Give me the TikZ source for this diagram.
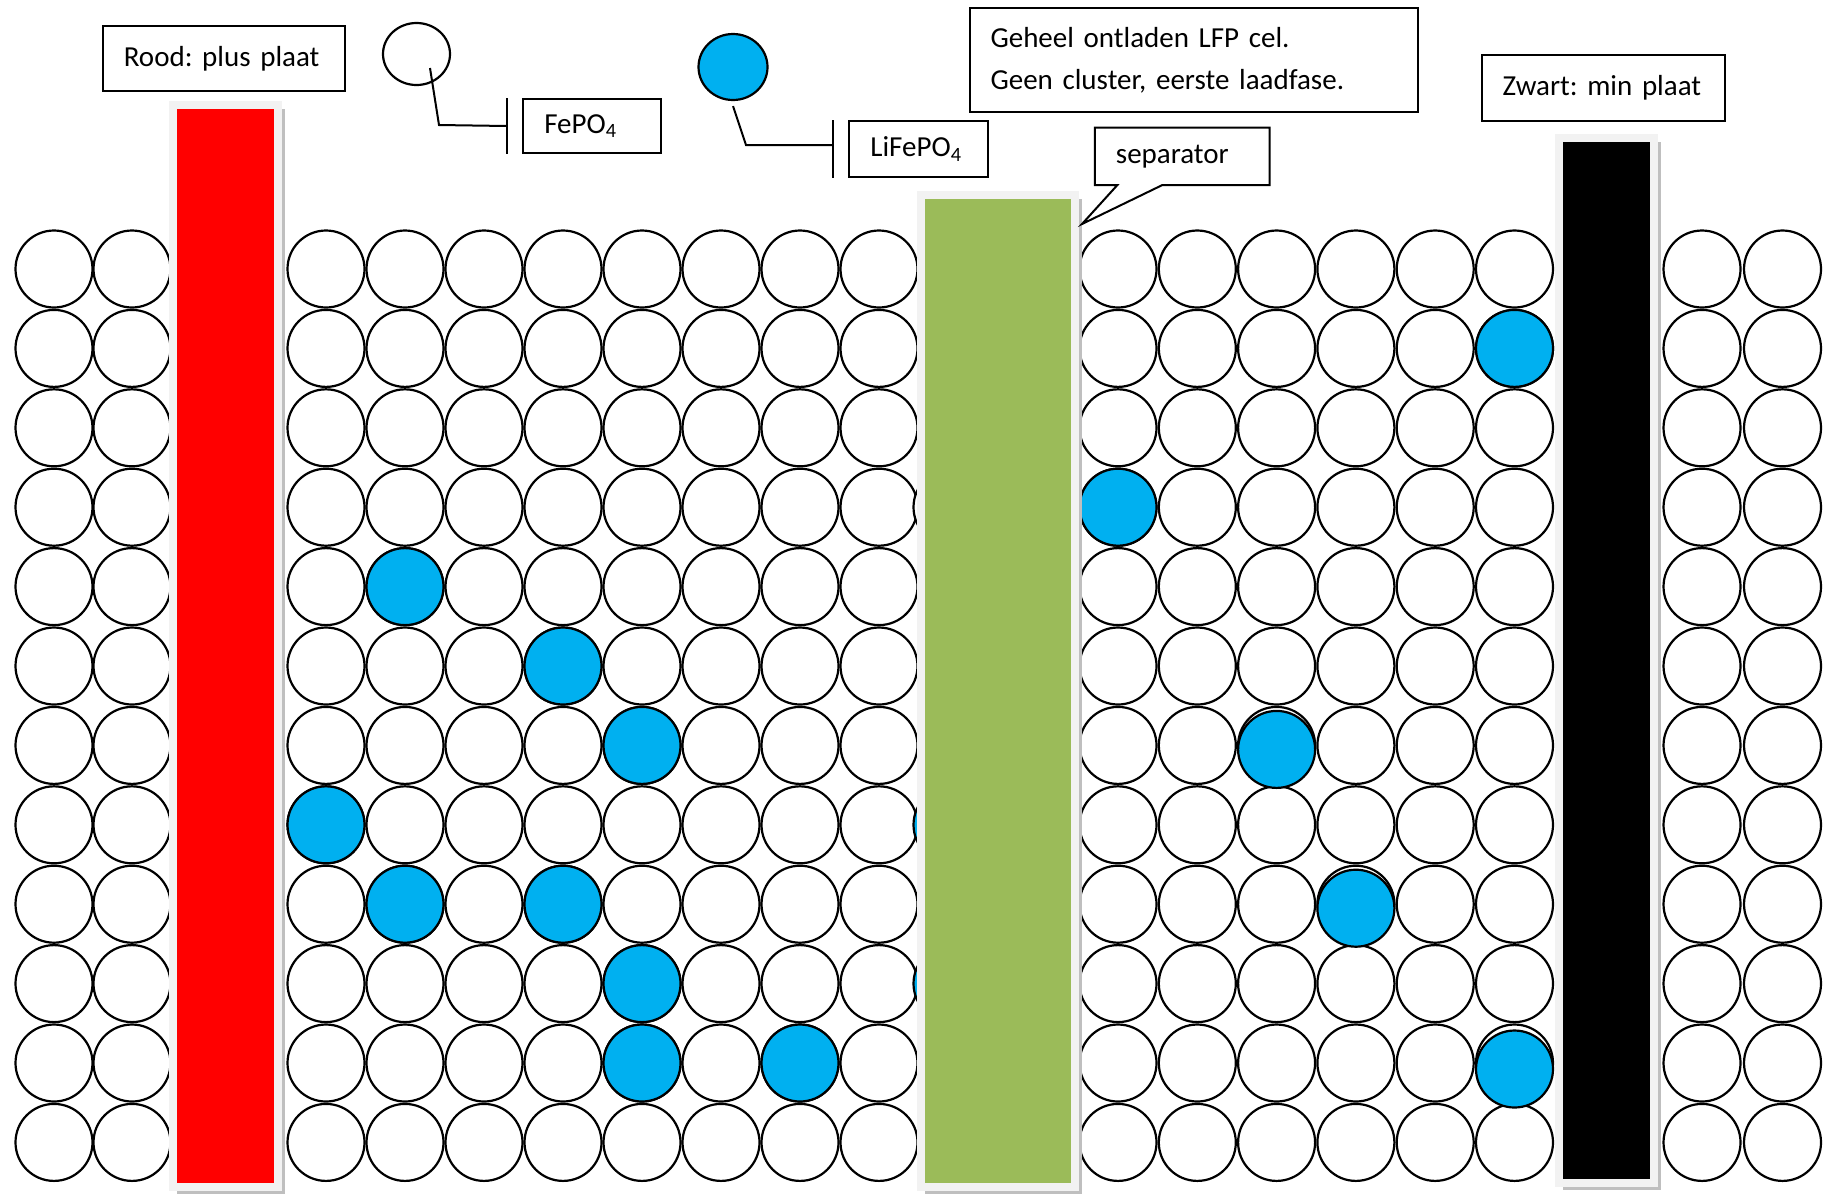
\documentclass[tikz,border=0pt]{standalone}
\usepackage{fontspec}
\setmainfont{Carlito}
\usetikzlibrary{shapes.geometric,shapes.callouts}
\definecolor{lfpblauw}{HTML}{00B0F0}
\definecolor{sepgroen}{HTML}{9BBB59}
\definecolor{randgrijs}{HTML}{F2F2F2}
\definecolor{schaduw}{HTML}{BFBFBF}

\begin{document}
\begin{tikzpicture}[x=1pt,y=-1pt,
    bol/.style={circle,draw,line width=2.2pt,minimum size=77pt,inner sep=0pt,fill=white},
    li bol/.style={bol,fill=lfpblauw},
    plaat/.style={rectangle,draw=randgrijs,line width=8pt,inner sep=0pt},
    tekstvak/.style={rectangle,draw,line width=2pt,fill=white,inner xsep=21pt,inner ysep=0pt,
                     align=left,font=\fontsize{29}{42}\selectfont\frenchspacing},
    lijn/.style={line width=2pt}]

  \useasboundingbox (0,0) rectangle (1827,1195);

  % het rooster van kristallen
  \foreach \r in {1,...,12} {
    \pgfmathsetmacro\ry{269+(\r-1)*79.4}
    \foreach \k/\x in {1/54,2/132}
      \node[bol] (a\r-\k) at (\x,\ry) {};
    \foreach \k in {1,...,8}
      \node[bol] (b\r-\k) at ({326+(\k-1)*79},\ry) {};
    \foreach \k in {1,...,6}
      \node[bol] (c\r-\k) at ({1118+(\k-1)*79.3},\ry) {};
    \foreach \k/\x in {1/1702,2/1782.5}
      \node[bol] (d\r-\k) at (\x,\ry) {};
  }
  \node[bol] (b4-9) at ([xshift=73pt]b4-8) {};
  \node[li bol] (b8-9) at ([xshift=73pt]b8-8) {};
  \node[li bol] (b10-9) at ([xshift=73pt]b10-8) {};

  % LiFePO4
  \foreach \n in {b5-2,b6-4,b7-5,b8-1,b9-2,b9-4,b10-5,b11-5,b11-7,c2-6,c4-1}
    \node[li bol] (li-\n) at (\n) {};
  \node[li bol] (li-c7-3) at ([yshift=-4pt]c7-3) {};
  \node[li bol] (li-c9-4) at ([yshift=-4pt]c9-4) {};
  \node[li bol] (li-c11-6) at ([yshift=-6pt]c11-6) {};

  % platen en separator
  \node[plaat,fill=red,minimum width=105pt,minimum height=1082pt] (plus) at (225.5,646) {};
  \node[plaat,fill=sepgroen,minimum width=154pt,minimum height=992pt] (sep) at (998,691) {};
  \node[plaat,fill=black,minimum width=95pt,minimum height=1045pt] (min) at (1606.5,660.5) {};
  \foreach \p in {plus,sep,min}
    \draw[schaduw,line width=3pt] ([xshift=1.5pt,yshift=-8pt]\p.north east)
      -- ([xshift=1.5pt,yshift=-1.5pt]\p.south east) -- ([xshift=8pt,yshift=-1.5pt]\p.south west);

  % legenda
  \node[bol,ellipse,minimum width=67pt,minimum height=62pt] (fe) at (416.5,54) {};
  \node[tekstvak,text width=95.5pt,minimum height=53.4pt,anchor=north west] (fe-tekst)
    at (522.3,98.3) {FePO\textsubscript{4}};
  \coordinate (fe-streep) at ([xshift=-15.6pt]fe-tekst.west);
  \draw[lijn] ([shift={(13.5,14)}]fe.center) -- ++(9,57) -- (fe-streep);
  \draw[lijn] ([xshift=-15.6pt]fe-tekst.north west) -- ([xshift=-15.6pt]fe-tekst.south west);

  \node[li bol,ellipse,minimum width=69pt,minimum height=66pt] (lfe) at (733,67) {};
  \node[tekstvak,text width=96.8pt,minimum height=56pt,anchor=north west] (lfe-tekst)
    at (848.4,120) {LiFePO\textsubscript{4}};
  \coordinate (lfe-streep) at ([xshift=-15.4pt,yshift=4pt]lfe-tekst.west);
  \draw[lijn] ([yshift=-5pt]lfe.south) -- ++(13,39) -- (lfe-streep);
  \draw[lijn] ([xshift=-15.4pt]lfe-tekst.north west) -- ([xshift=-15.4pt]lfe-tekst.south west);

  % tekstvakken
  \node[tekstvak,text width=200.4pt,minimum height=65.3pt,anchor=north west] (rood)
    at (101.8,25) {Rood: plus plaat};
  \node[tekstvak,text width=201.3pt,minimum height=65.7pt,anchor=north west] (zwart)
    at (1480.7,54.3) {Zwart: min plaat};
  \node[tekstvak,text width=406.3pt,minimum height=104.3pt,anchor=north west] (titel)
    at (968.5,6.7) {Geheel ontladen LFP cel.\\Geen cluster, eerste laadfase.};
  \node[tekstvak,rectangle callout,callout pointer width=45pt,
        callout absolute pointer={([xshift=3pt,yshift=-33pt]sep.north east)},
        text width=132.6pt,minimum height=57.3pt,anchor=north west] (sep-tekst)
    at (1093.9,126.7) {separator};
\end{tikzpicture}
\end{document}
